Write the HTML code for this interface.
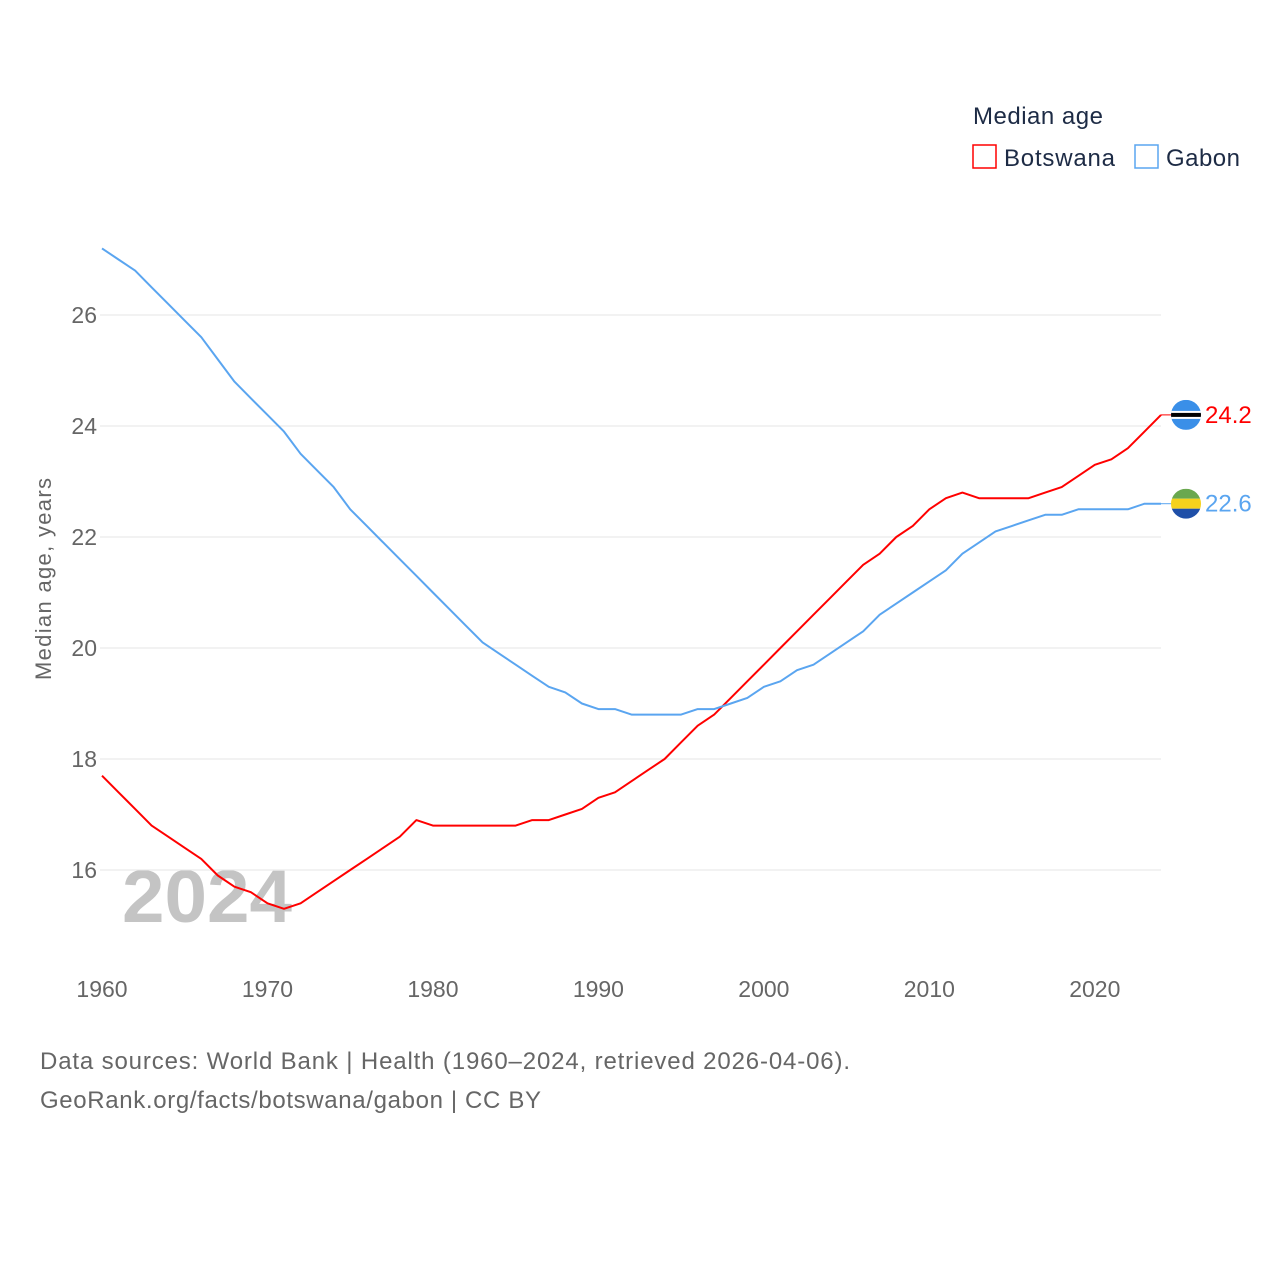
<!DOCTYPE html>
<html><head><meta charset="utf-8"><style>
body{margin:0;background:#fff;}
svg text{font-family:"Liberation Sans",sans-serif;}
</style></head><body>
<svg id="chart" width="1280" height="1280" xmlns="http://www.w3.org/2000/svg">
<text x="973" y="124" font-size="24" fill="#1d2b45" textLength="130">Median age</text>
<g><rect x="973" y="145" width="23" height="23" fill="none" stroke="#f00" stroke-width="1.5"/><text x="1004" y="166" font-size="24" fill="#1d2b45" textLength="111">Botswana</text></g>
<g><rect x="1135" y="145" width="23" height="23" fill="none" stroke="#5aa5f0" stroke-width="1.5"/><text x="1166" y="166" font-size="24" fill="#1d2b45" textLength="74">Gabon</text></g>
<text transform="translate(51,579) rotate(-90)" text-anchor="middle" font-size="22" fill="#666" textLength="202">Median age, years</text>
<text x="122" y="922" font-size="74" font-weight="bold" fill="#c4c4c4" textLength="170" lengthAdjust="spacingAndGlyphs">2024</text>
<g id="grid"></g><g id="xt"></g><g id="lines"></g>
<text x="40" y="1069" font-size="24" fill="#666" textLength="810">Data sources: World Bank | Health (1960–2024, retrieved 2026-04-06).</text>
<text x="40" y="1108" font-size="24" fill="#666" textLength="501">GeoRank.org/facts/botswana/gabon | CC BY</text>
</svg>
<script>
const years=[];for(let y=1960;y<=2024;y++)years.push(y);
const yTicks=[16,18,20,22,24,26];
const xTicks=[1960,1970,1980,1990,2000,2010,2020];
const gabon=[27.2,27.0,26.8,26.5,26.2,25.9,25.6,25.2,24.8,24.5,24.2,23.9,23.5,23.2,22.9,22.5,22.2,21.9,21.6,21.3,21.0,20.7,20.4,20.1,19.9,19.7,19.5,19.3,19.2,19.0,18.9,18.9,18.8,18.8,18.8,18.8,18.9,18.9,19.0,19.1,19.3,19.4,19.6,19.7,19.9,20.1,20.3,20.6,20.8,21.0,21.2,21.4,21.7,21.9,22.1,22.2,22.3,22.4,22.4,22.5,22.5,22.5,22.5,22.6,22.6];
const botswana=[17.7,17.4,17.1,16.8,16.6,16.4,16.2,15.9,15.7,15.6,15.4,15.3,15.4,15.6,15.8,16.0,16.2,16.4,16.6,16.9,16.8,16.8,16.8,16.8,16.8,16.8,16.9,16.9,17.0,17.1,17.3,17.4,17.6,17.8,18.0,18.3,18.6,18.8,19.1,19.4,19.7,20.0,20.3,20.6,20.9,21.2,21.5,21.7,22.0,22.2,22.5,22.7,22.8,22.7,22.7,22.7,22.7,22.8,22.9,23.1,23.3,23.4,23.6,23.9,24.2];
const X=y=>102+(y-1960)*(1161-102)/64;
const Y=v=>870-(v-16)*55.5;
const NS="http://www.w3.org/2000/svg";
function mk(t,a,p){const e=document.createElementNS(NS,t);for(const k in a)e.setAttribute(k,a[k]);p.appendChild(e);return e;}
const grid=document.getElementById('grid');
yTicks.forEach(v=>{
 const l=mk('line',{x1:100,x2:1161,y1:Y(v),y2:Y(v),stroke:'#e6e6e6','stroke-width':1},grid);
 
 
 const t=mk('text',{x:97,y:Y(v)+8,'text-anchor':'end','font-size':23,fill:'#666'},grid);t.textContent=v;
 
 
});
const xt=document.getElementById('xt');
xTicks.forEach(v=>{
 const t=mk('text',{x:X(v),y:997,'text-anchor':'middle','font-size':23,fill:'#666'},xt);t.textContent=v;
 
 
});
const lines=document.getElementById('lines');
function series(vals,col,name){
 const d=vals.map((v,i)=>(i?'L':'M')+X(years[i]).toFixed(1)+','+Y(v).toFixed(1)).join('');
 const p=mk('path',{d:d,fill:'none',stroke:col,'stroke-width':2,'stroke-linejoin':'round'},lines);
 
 
 const last=vals[vals.length-1];
 const t=mk('text',{x:1205,y:Y(last)+8,'font-size':24,fill:col},lines);t.textContent=last.toFixed(1);
 
 
 return Y(last);
}
const yb=series(botswana,'#f00','botswana');
const yg=series(gabon,'#5aa5f0','gabon');
mk('line',{x1:1161,x2:1172,y1:yb,y2:yb,stroke:'#f00','stroke-width':1},lines);
mk('line',{x1:1161,x2:1172,y1:yg,y2:yg,stroke:'#5aa5f0','stroke-width':1},lines);
const fb=mk('g',{},lines);


mk('clipPath',{id:'cb'},fb);mk('circle',{cx:1186,cy:yb,r:15},fb.lastChild);
const gb=mk('g',{'clip-path':'url(#cb)'},fb);
mk('rect',{x:1171,y:yb-15,width:30,height:30,fill:'#3a8fe8'},gb);
mk('rect',{x:1171,y:yb-4,width:30,height:8,fill:'#fff'},gb);
mk('rect',{x:1171,y:yb-2,width:30,height:4,fill:'#000'},gb);
const fg=mk('g',{},lines);


mk('clipPath',{id:'cg'},fg);mk('circle',{cx:1186,cy:yg,r:15},fg.lastChild);
const gg=mk('g',{'clip-path':'url(#cg)'},fg);
mk('rect',{x:1171,y:yg-15,width:30,height:10,fill:'#6aa84f'},gg);
mk('rect',{x:1171,y:yg-5,width:30,height:10,fill:'#f5d21c'},gg);
mk('rect',{x:1171,y:yg+5,width:30,height:10,fill:'#1f4fa8'},gg);
</script>
</body></html>
